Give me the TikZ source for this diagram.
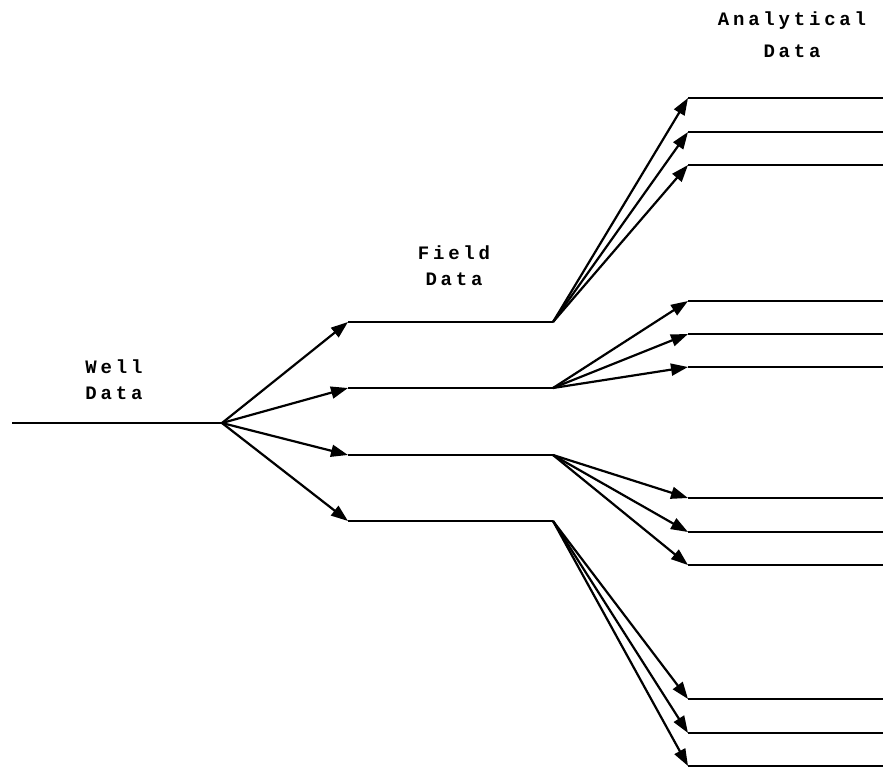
\documentclass[tikz,border=0pt]{standalone}
\usepackage{fontspec}
\setmonofont{Liberation Mono}[LetterSpace=20]
\usetikzlibrary{arrows.meta}
\newcommand{\lblfont}{\ttfamily\bfseries\fontsize{19}{26}\selectfont}
\tikzset{
  wire/.style ={line width=2.2pt},
  feed/.style ={wire, -{Triangle[length=17pt,width=12pt]}},
  lbl/.style  ={font=\lblfont, align=center, inner sep=0pt},
}
\begin{document}
\begin{tikzpicture}[x=1pt,y=-1pt]
  \useasboundingbox (0,0) rectangle (883,768);
  % labels
  \node[lbl] (well)  at (114,380) {Well\\Data};
  \node[lbl] (field) at (454,266) {Field\\Data};
  \node[lbl] (anal)  at (792,35)  {Analytical\\[6pt]Data};
  % well data trunk
  \coordinate (src) at (12,423);
  \coordinate (hub) at (222,423);
  \draw[wire] (src) -- (hub);
  % field data branches
  \foreach \i/\y in {1/322,2/388,3/455,4/521}{
    \coordinate (f\i) at (348,\y);
    \coordinate (g\i) at (553,\y);
    \draw[feed] (hub) -- (f\i);
    \draw[wire] (f\i) -- (g\i);
  }
  % analytical data branches
  \foreach \i/\ya/\yb/\yc in {1/98/132/165,2/301/334/367,3/498/532/565,4/699/733/766}{
    \foreach \j/\y in {1/\ya,2/\yb,3/\yc}{
      \coordinate (a\i\j) at (688,\y);
      \coordinate (e\i\j) at (883,\y);
      \draw[feed] (g\i) -- (a\i\j);
      \draw[wire] (a\i\j) -- (e\i\j);
    }
  }
\end{tikzpicture}
\end{document}
